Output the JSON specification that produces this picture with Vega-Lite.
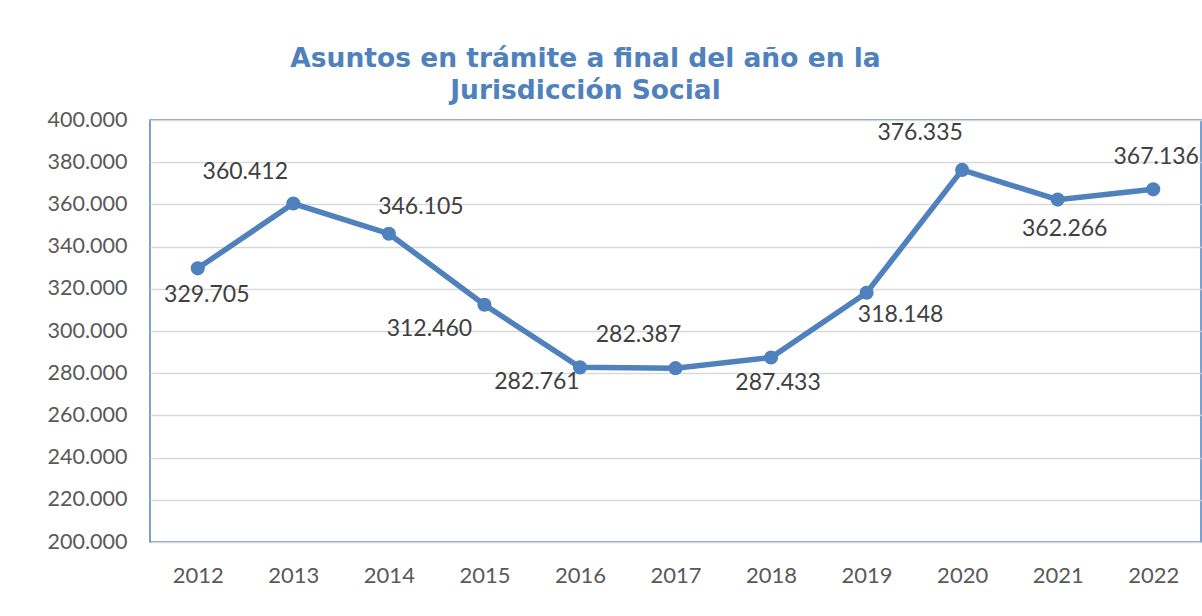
{
  "$schema": "https://vega.github.io/schema/vega-lite/v6.json",
  "width": 1051,
  "height": 422,
  "padding": {"left": 150, "top": 120, "right": 1, "bottom": 74},
  "autosize": {"type": "none"},
  "background": "white",
  "config": {
    "locale": {"number": {"decimal": ",", "thousands": ".", "grouping": [3], "currency": ["", " €"]}},
    "view": {"stroke": "#4F81BD", "strokeWidth": 1.5},
    "font": "Lato"
  },
  "title": {
    "text": ["Asuntos en trámite a final del año en la", "Jurisdicción Social"],
    "font": "DejaVu Sans",
    "fontWeight": "bold",
    "fontSize": 26.5,
    "color": "#4F81BD",
    "lineHeight": 32,
    "anchor": "middle",
    "frame": "group",
    "dx": -90,
    "dy": 36,
    "baseline": "bottom",
    "offset": 14
  },
  "data": {
    "values": [
      {"year": "2012", "value": 329705},
      {"year": "2013", "value": 360412},
      {"year": "2014", "value": 346105},
      {"year": "2015", "value": 312460},
      {"year": "2016", "value": 282761},
      {"year": "2017", "value": 282387},
      {"year": "2018", "value": 287433},
      {"year": "2019", "value": 318148},
      {"year": "2020", "value": 376335},
      {"year": "2021", "value": 362266},
      {"year": "2022", "value": 367136}
    ]
  },
  "encoding": {
    "x": {
      "field": "year",
      "type": "ordinal",
      "scale": {"type": "point", "padding": 0.5},
      "axis": {
        "title": null,
        "labelAngle": 0,
        "ticks": false,
        "domain": false,
        "grid": false,
        "labelFont": "Lato",
        "labelFontSize": 22,
        "labelColor": "#595959",
        "labelPadding": 23
      }
    },
    "y": {
      "field": "value",
      "type": "quantitative",
      "scale": {"domain": [200000, 400000], "nice": false, "zero": false},
      "axis": {
        "title": null,
        "values": [200000, 220000, 240000, 260000, 280000, 300000, 320000, 340000, 360000, 380000, 400000],
        "format": ",d",
        "ticks": false,
        "domain": false,
        "gridColor": "#D9D9D9",
        "gridWidth": 1.5,
        "labelFont": "Lato",
        "labelFontSize": 21.5,
        "labelColor": "#595959",
        "labelPadding": 23
      }
    }
  },
  "layer": [
    {"mark": {"type": "line", "color": "#4F81BD", "strokeWidth": 5.5}},
    {"mark": {"type": "point", "filled": true, "color": "#4F81BD", "size": 200, "opacity": 1}},
    {"transform": [{"filter": "datum.year == '2012'"}], "mark": {"type": "text", "font": "Lato", "fontSize": 23, "color": "#404040", "baseline": "middle", "dx": 9, "dy": 27}, "encoding": {"text": {"field": "value", "type": "quantitative", "format": ",d"}}},
    {"transform": [{"filter": "datum.year == '2013'"}], "mark": {"type": "text", "font": "Lato", "fontSize": 23, "color": "#404040", "baseline": "middle", "dx": -48, "dy": -32}, "encoding": {"text": {"field": "value", "type": "quantitative", "format": ",d"}}},
    {"transform": [{"filter": "datum.year == '2014'"}], "mark": {"type": "text", "font": "Lato", "fontSize": 23, "color": "#404040", "baseline": "middle", "dx": 32, "dy": -27}, "encoding": {"text": {"field": "value", "type": "quantitative", "format": ",d"}}},
    {"transform": [{"filter": "datum.year == '2015'"}], "mark": {"type": "text", "font": "Lato", "fontSize": 23, "color": "#404040", "baseline": "middle", "dx": -55, "dy": 24}, "encoding": {"text": {"field": "value", "type": "quantitative", "format": ",d"}}},
    {"transform": [{"filter": "datum.year == '2016'"}], "mark": {"type": "text", "font": "Lato", "fontSize": 23, "color": "#404040", "baseline": "middle", "dx": -43, "dy": 15}, "encoding": {"text": {"field": "value", "type": "quantitative", "format": ",d"}}},
    {"transform": [{"filter": "datum.year == '2017'"}], "mark": {"type": "text", "font": "Lato", "fontSize": 23, "color": "#404040", "baseline": "middle", "dx": -37, "dy": -33}, "encoding": {"text": {"field": "value", "type": "quantitative", "format": ",d"}}},
    {"transform": [{"filter": "datum.year == '2018'"}], "mark": {"type": "text", "font": "Lato", "fontSize": 23, "color": "#404040", "baseline": "middle", "dx": 7, "dy": 25}, "encoding": {"text": {"field": "value", "type": "quantitative", "format": ",d"}}},
    {"transform": [{"filter": "datum.year == '2019'"}], "mark": {"type": "text", "font": "Lato", "fontSize": 23, "color": "#404040", "baseline": "middle", "dx": 34, "dy": 22}, "encoding": {"text": {"field": "value", "type": "quantitative", "format": ",d"}}},
    {"transform": [{"filter": "datum.year == '2020'"}], "mark": {"type": "text", "font": "Lato", "fontSize": 23, "color": "#404040", "baseline": "middle", "dx": -42, "dy": -37}, "encoding": {"text": {"field": "value", "type": "quantitative", "format": ",d"}}},
    {"transform": [{"filter": "datum.year == '2021'"}], "mark": {"type": "text", "font": "Lato", "fontSize": 23, "color": "#404040", "baseline": "middle", "dx": 7, "dy": 29}, "encoding": {"text": {"field": "value", "type": "quantitative", "format": ",d"}}},
    {"transform": [{"filter": "datum.year == '2022'"}], "mark": {"type": "text", "font": "Lato", "fontSize": 23, "color": "#404040", "baseline": "middle", "dx": 3, "dy": -32}, "encoding": {"text": {"field": "value", "type": "quantitative", "format": ",d"}}}
  ]
}
